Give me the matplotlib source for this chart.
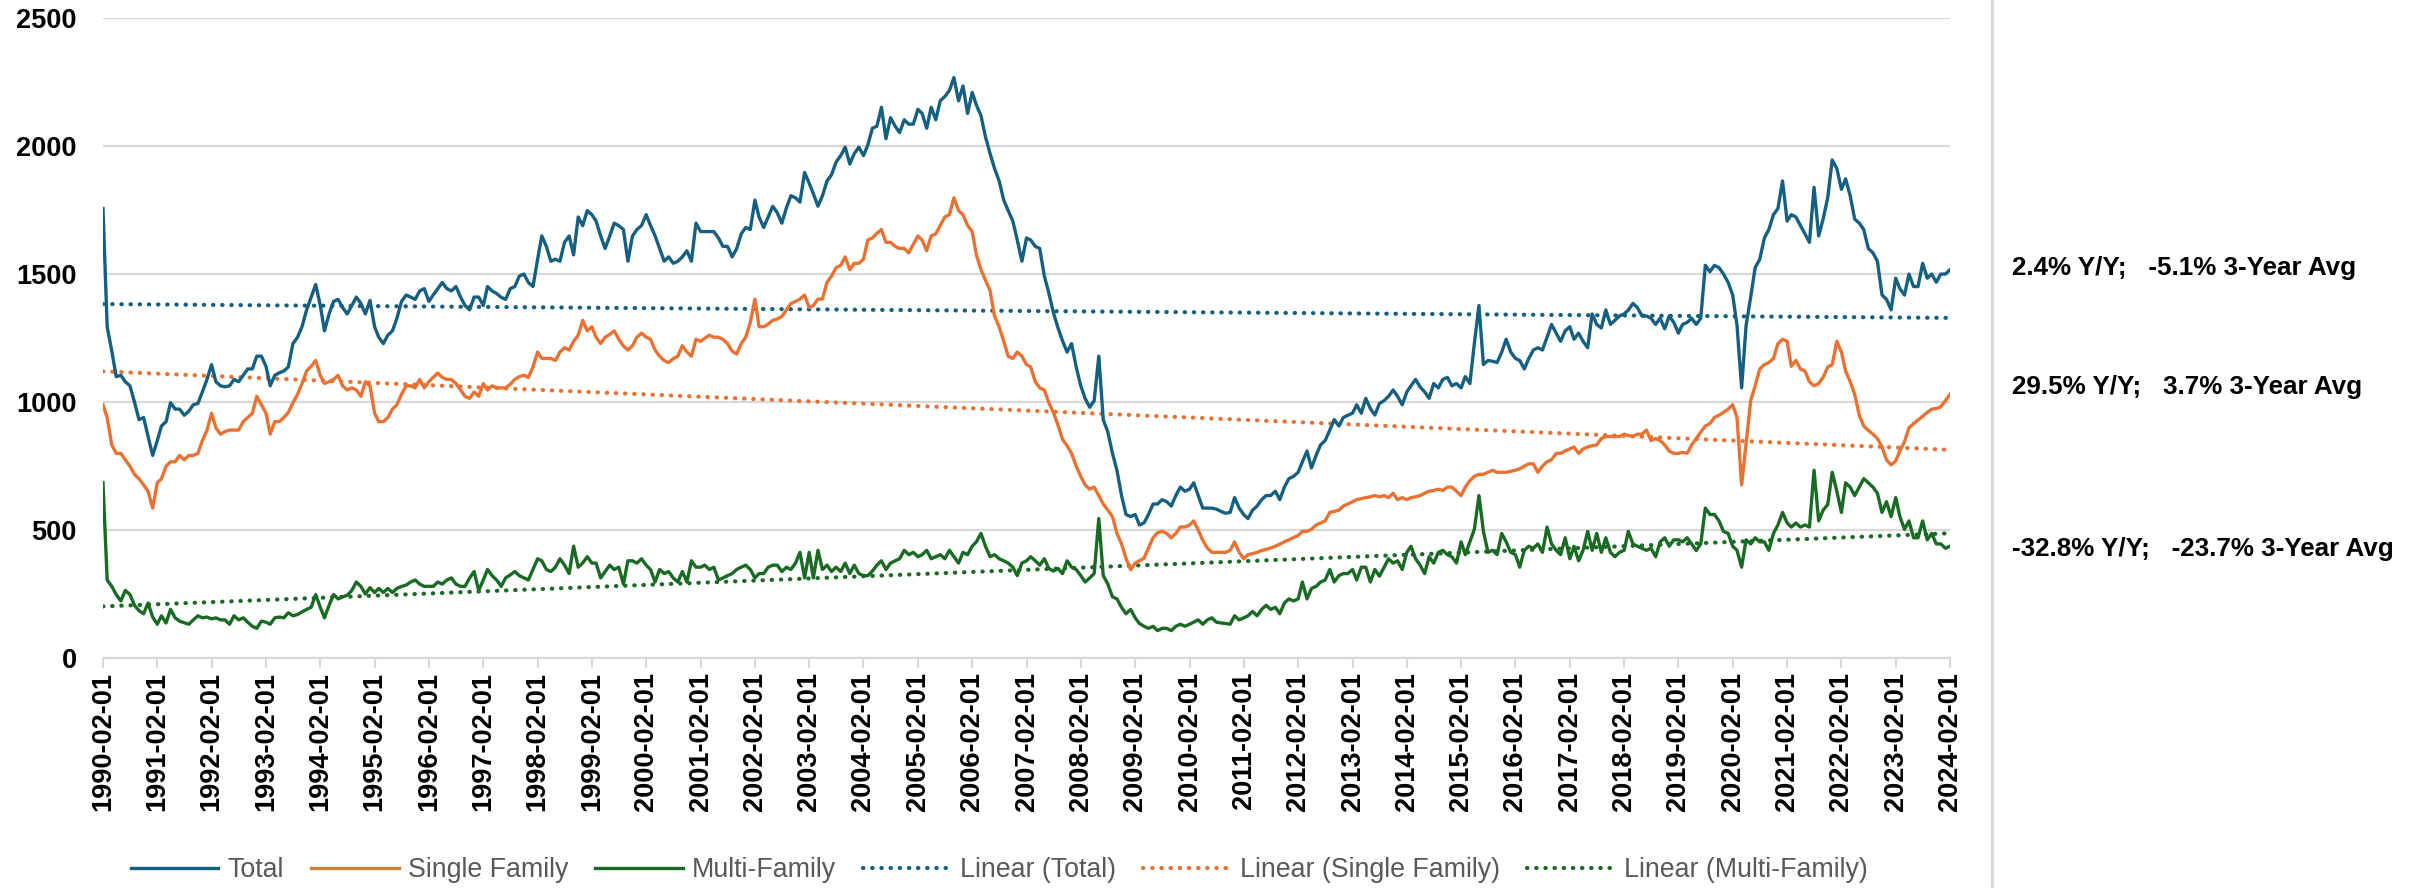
import numpy as np
import pandas as pd
import matplotlib
matplotlib.use('Agg')
import matplotlib.pyplot as plt
from matplotlib import font_manager
from matplotlib.lines import Line2D

# monthly housing starts, 1990-02 .. 2024-02 (one row per Feb..Jan year)
total = [
    1757, 1295, 1200, 1100, 1105, 1080, 1064, 1000, 932, 940, 866, 792,
    850, 907, 924, 998, 973, 973, 949, 965, 990, 995, 1040, 1089,
    1147, 1080, 1064, 1060, 1064, 1089, 1080, 1105, 1130, 1130, 1180, 1180,
    1140, 1064, 1105, 1115, 1122, 1138, 1229, 1254, 1295, 1361, 1410, 1460,
    1378, 1279, 1345, 1394, 1402, 1370, 1345, 1378, 1411, 1386, 1345, 1398,
    1295, 1254, 1229, 1262, 1279, 1328, 1394, 1419, 1411, 1402, 1435, 1444,
    1394, 1419, 1444, 1468, 1444, 1435, 1452, 1411, 1378, 1361, 1411, 1411,
    1378, 1452, 1435, 1425, 1410, 1402, 1444, 1452, 1493, 1501, 1468, 1452,
    1559, 1650, 1609, 1551, 1559, 1551, 1625, 1650, 1576, 1724, 1690, 1749,
    1733, 1708, 1650, 1601, 1650, 1700, 1690, 1675, 1551, 1650, 1675, 1691,
    1733, 1691, 1650, 1601, 1551, 1568, 1543, 1551, 1568, 1592, 1551, 1700,
    1667, 1667, 1667, 1667, 1642, 1609, 1609, 1568, 1600, 1658, 1683, 1675,
    1790, 1724, 1683, 1724, 1766, 1741, 1700, 1760, 1807, 1799, 1782, 1898,
    1856, 1815, 1766, 1807, 1865, 1889, 1939, 1964, 1997, 1931, 1972, 1997,
    1964, 2005, 2071, 2079, 2153, 2030, 2112, 2079, 2054, 2104, 2087, 2087,
    2145, 2129, 2071, 2153, 2104, 2178, 2195, 2219, 2269, 2178, 2236, 2129,
    2211, 2162, 2120, 2038, 1972, 1914, 1865, 1790, 1749, 1708, 1634, 1551,
    1642, 1634, 1609, 1601, 1493, 1427, 1350, 1290, 1240, 1196, 1229, 1138,
    1064, 1015, 980, 1006, 1180, 932, 883, 800, 734, 635, 561, 553,
    561, 520, 528, 561, 602, 602, 619, 611, 594, 635, 668, 652,
    660, 685, 635, 586, 586, 586, 582, 573, 566, 569, 627, 586,
    560, 545, 578, 594, 619, 635, 635, 652, 619, 668, 701, 710,
    726, 767, 809, 743, 792, 833, 850, 891, 932, 907, 940, 949,
    957, 990, 957, 1015, 975, 950, 995, 1006, 1023, 1048, 1023, 990,
    1040, 1064, 1089, 1060, 1040, 1015, 1073, 1056, 1089, 1097, 1064, 1073,
    1056, 1100, 1073, 1229, 1378, 1147, 1163, 1160, 1155, 1196, 1246, 1196,
    1171, 1163, 1130, 1171, 1204, 1213, 1204, 1254, 1304, 1270, 1238, 1279,
    1295, 1246, 1270, 1238, 1213, 1345, 1304, 1290, 1361, 1304, 1320, 1337,
    1345, 1360, 1386, 1370, 1337, 1337, 1328, 1304, 1328, 1287, 1337, 1312,
    1270, 1304, 1312, 1328, 1304, 1328, 1535, 1510, 1535, 1526, 1501, 1469,
    1419, 1300, 1056, 1300, 1411, 1526, 1559, 1642, 1675, 1733, 1757, 1865,
    1708, 1733, 1724, 1691, 1658, 1625, 1840, 1650, 1716, 1800, 1947, 1914,
    1832, 1873, 1807, 1716, 1700, 1675, 1601, 1584, 1551, 1419, 1402, 1361,
    1485, 1444, 1419, 1501, 1452, 1452, 1543, 1485, 1501, 1469, 1501, 1501,
    1518,
]

single = [
    990, 940, 833, 800, 800, 775, 750, 718, 701, 677, 652, 586,
    685, 701, 750, 767, 767, 792, 775, 792, 792, 800, 850, 890,
    957, 900, 875, 885, 891, 891, 891, 924, 940, 957, 1023, 990,
    957, 875, 924, 924, 940, 960, 998, 1031, 1073, 1122, 1140, 1163,
    1105, 1073, 1080, 1089, 1105, 1064, 1048, 1056, 1048, 1023, 1080, 1064,
    957, 924, 924, 940, 973, 990, 1031, 1064, 1064, 1056, 1089, 1056,
    1080, 1097, 1114, 1097, 1089, 1089, 1073, 1048, 1023, 1015, 1040, 1023,
    1073, 1048, 1064, 1056, 1056, 1056, 1070, 1089, 1100, 1105, 1097, 1138,
    1196, 1171, 1171, 1171, 1163, 1196, 1213, 1204, 1238, 1262, 1320, 1279,
    1295, 1254, 1229, 1254, 1265, 1279, 1246, 1220, 1204, 1221, 1254, 1270,
    1254, 1246, 1204, 1180, 1163, 1155, 1170, 1180, 1221, 1196, 1180, 1246,
    1238, 1250, 1262, 1254, 1254, 1246, 1229, 1200, 1188, 1229, 1254, 1312,
    1403, 1295, 1295, 1305, 1320, 1325, 1335, 1361, 1386, 1394, 1403, 1419,
    1370, 1378, 1403, 1403, 1469, 1493, 1526, 1535, 1568, 1518, 1543, 1543,
    1559, 1634, 1642, 1660, 1675, 1625, 1625, 1609, 1601, 1601, 1584, 1617,
    1650, 1634, 1592, 1650, 1658, 1691, 1724, 1733, 1799, 1749, 1733, 1691,
    1667, 1576, 1518, 1477, 1436, 1337, 1295, 1238, 1180, 1171, 1196, 1180,
    1147, 1138, 1080, 1056, 1048, 998, 960, 910, 855, 830, 800, 750,
    710, 677, 660, 668, 635, 602, 578, 553, 487, 446, 390, 345,
    371, 380, 390, 430, 470, 490, 495, 487, 470, 487, 512, 512,
    520, 536, 500, 460, 430, 413, 413, 413, 413, 421, 454, 413,
    388, 404, 408, 413, 420, 425, 430, 437, 445, 454, 462, 470,
    479, 495, 495, 503, 520, 528, 536, 569, 573, 578, 594, 602,
    611, 619, 623, 627, 630, 635, 630, 635, 627, 644, 619, 627,
    619, 627, 630, 635, 644, 652, 655, 660, 655, 668, 668, 652,
    635, 668, 693, 710, 718, 718, 726, 734, 726, 726, 726, 730,
    734, 740, 750, 759, 759, 726, 750, 767, 775, 800, 800, 810,
    817, 825, 800, 817, 825, 830, 833, 858, 866, 866, 866, 866,
    875, 870, 866, 875, 875, 891, 850, 858, 850, 833, 809, 800,
    800, 804, 800, 833, 858, 883, 907, 916, 940, 949, 960, 973,
    990, 940, 677, 840, 1006, 1064, 1130, 1147, 1155, 1171, 1229, 1246,
    1238, 1140, 1163, 1130, 1122, 1080, 1064, 1073, 1097, 1138, 1147, 1238,
    1196, 1122, 1080, 1031, 949, 907, 890, 875, 858, 825, 775, 755,
    770, 810, 845, 900, 916, 930, 945, 960, 973, 975, 982, 1006,
    1031,
]

multi = [
    685, 305, 280, 248, 223, 264, 248, 206, 185, 173, 215, 160,
    132, 165, 137, 190, 157, 144, 138, 132, 149, 165, 157, 160,
    153, 157, 149, 149, 132, 165, 149, 157, 140, 124, 116, 144,
    140, 132, 157, 160, 157, 177, 165, 170, 180, 190, 198, 248,
    198, 157, 206, 248, 231, 239, 245, 264, 297, 280, 250, 275,
    256, 272, 256, 272, 256, 272, 280, 285, 297, 305, 289, 280,
    280, 280, 297, 289, 305, 313, 289, 280, 280, 313, 338, 264,
    305, 346, 322, 305, 280, 313, 325, 338, 322, 313, 305, 346,
    388, 380, 346, 338, 355, 388, 363, 330, 437, 355, 371, 396,
    371, 371, 313, 338, 363, 346, 355, 289, 380, 380, 371, 388,
    363, 346, 297, 346, 330, 338, 313, 297, 338, 297, 380, 355,
    355, 363, 346, 355, 305, 313, 322, 330, 346, 355, 363, 346,
    313, 330, 330, 355, 363, 363, 338, 355, 346, 371, 413, 313,
    413, 313, 421, 346, 363, 338, 355, 338, 371, 330, 363, 330,
    322, 322, 340, 363, 380, 346, 371, 380, 388, 421, 404, 413,
    396, 404, 421, 388, 396, 404, 388, 421, 396, 371, 413, 404,
    437, 454, 487, 437, 396, 404, 388, 380, 371, 355, 322, 371,
    380, 396, 380, 363, 388, 350, 340, 350, 330, 380, 355, 346,
    322, 297, 313, 330, 545, 322, 289, 239, 231, 198, 173, 190,
    157, 135, 124, 116, 124, 107, 116, 116, 107, 124, 132, 124,
    132, 140, 149, 132, 149, 157, 140, 137, 135, 132, 165, 149,
    157, 165, 182, 165, 190, 206, 190, 198, 173, 215, 231, 223,
    231, 297, 231, 272, 280, 297, 305, 346, 297, 322, 330, 330,
    346, 305, 355, 355, 297, 346, 320, 355, 388, 371, 380, 346,
    413, 437, 388, 363, 330, 396, 371, 413, 421, 404, 396, 371,
    454, 404, 454, 503, 635, 495, 413, 421, 404, 487, 454, 413,
    404, 355, 421, 437, 429, 446, 413, 512, 446, 421, 404, 470,
    388, 437, 380, 421, 495, 421, 487, 413, 470, 413, 396, 413,
    421, 495, 446, 437, 429, 421, 429, 396, 454, 470, 437, 462,
    462, 454, 470, 446, 420, 446, 586, 561, 561, 536, 495, 487,
    437, 421, 355, 462, 446, 470, 454, 454, 421, 487, 520, 569,
    528, 512, 528, 512, 520, 512, 734, 536, 578, 600, 726, 652,
    569, 685, 668, 635, 668, 701, 685, 668, 644, 569, 611, 553,
    627, 553, 503, 536, 470, 470, 536, 462, 487, 446, 446, 429,
    437,
]

series_names = ['Total', 'Single Family', 'Multi-Family']
colors = ['#156082', '#E97132', '#196B24']
notes = ['2.4% Y/Y;   -5.1% 3-Year Avg',
         '29.5% Y/Y;   3.7% 3-Year Avg',
         '-32.8% Y/Y;   -23.7% 3-Year Avg']

plt.rcParams['font.family'] = ['Liberation Sans', 'DejaVu Sans']

W, H = 2425, 888
fig = plt.figure(figsize=(W / 100, H / 100), dpi=100)
ax = fig.add_axes([103 / W, 1 - 658 / H, 1847 / W, (658 - 18.5) / H])

grid_c = '#D9D9D9'
start = pd.Timestamp('1990-02-01')

data_lines = []
trend_lines = []
for vals, name, c in zip([total, single, multi], series_names, colors):
    d = pd.date_range(start, periods=len(vals), freq='MS')
    ln, = ax.plot(d, vals, color=c, lw=2.4, solid_joinstyle='round', label=name, zorder=3)
    data_lines.append(ln)
    idx = np.arange(len(vals))
    k, b = np.polyfit(idx, vals, 1)
    tl, = ax.plot(d, k * idx + b, color=c, lw=3.0, linestyle=(0, (0.1, 2.1)),
                  dash_capstyle='round', label='Linear (%s)' % name, zorder=2)
    trend_lines.append(tl)

dates = pd.date_range(start, periods=len(total), freq='MS')
ax.set_xlim(dates[0], dates[-1])
ax.set_ylim(0, 2500)
ax.set_yticks(range(0, 2501, 500))
ax.grid(axis='y', color=grid_c, lw=1.6)
ax.set_axisbelow(True)

tick_dates = dates[::12]
ax.set_xticks(tick_dates)
ax.set_xticklabels([t.strftime('%Y-%m-%d') for t in tick_dates], rotation=90,
                   fontsize=19.5, fontweight='bold', va='top', ha='center')
ax.tick_params(axis='x', length=7, width=1.5, color=grid_c, pad=3)
ax.tick_params(axis='y', length=0, pad=19, labelsize=19.5)
for lab in ax.get_yticklabels():
    lab.set_fontweight('bold')

for s in ['top', 'right', 'left']:
    ax.spines[s].set_visible(False)
ax.spines['bottom'].set_color(grid_c)
ax.spines['bottom'].set_linewidth(1.6)

# legend font: narrow if available
names = {f.name for f in font_manager.fontManager.ttflist}
if 'Liberation Sans Narrow' in names:
    leg_prop = font_manager.FontProperties(family='Liberation Sans Narrow', size=21)
else:
    leg_prop = font_manager.FontProperties(family='Liberation Sans', size=19.3)

handles = data_lines + trend_lines
fig.legend(handles, [h.get_label() for h in handles], loc='center',
           bbox_to_anchor=(999 / W, 1 - 870 / H), ncol=6, frameon=False,
           prop=leg_prop, labelcolor='#595959', handlelength=3.28,
           handletextpad=0.34, columnspacing=1.0)

for txt, yc in zip(notes, [268, 387, 549]):
    fig.text(2012 / W, 1 - yc / H, txt, ha='left', va='center',
             fontsize=18.7, fontweight='bold', color='black')

fig.add_artist(Line2D([1992 / W, 1992 / W], [0, 1], color=grid_c, lw=2.2))

fig.savefig('out.png', dpi=100)
